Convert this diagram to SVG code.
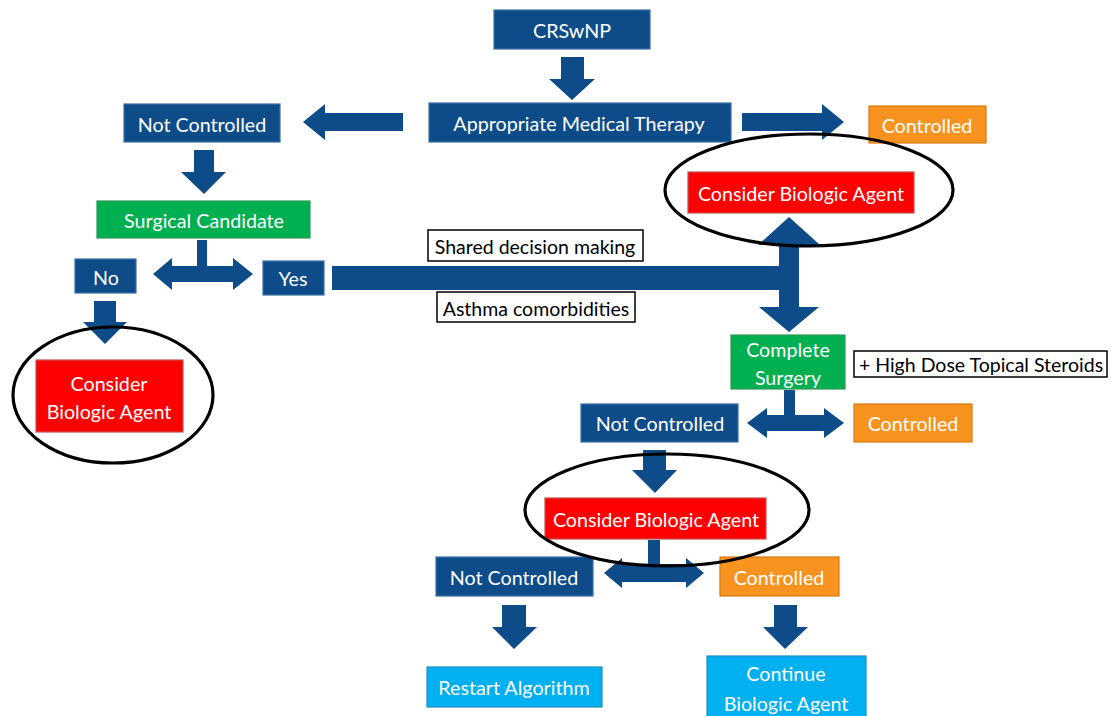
<svg xmlns="http://www.w3.org/2000/svg" width="1111" height="716" viewBox="0 0 1111 716">
<style>
.b{stroke-width:1.2}
.blue{fill:#0D4C88;stroke:#3B6FA6}
.org{fill:#F7931E;stroke:#D67A10}
.grn{fill:#00B050;stroke:#2E9A55}
.red{fill:#FF0000;stroke:#C0504D}
.lb{fill:#00B0F0;stroke:#1C8FC0}
.lab{fill:#fff;stroke:#000;stroke-width:1.5}
.t{font-family:Lato,"Open Sans",sans-serif;font-size:19.7px;fill:#fff;text-anchor:middle;dominant-baseline:central}
.tk{font-family:Lato,"Open Sans",sans-serif;font-size:19.5px;fill:#000;text-anchor:middle;dominant-baseline:central}
.arr{fill:#0D4C88}
.ring{fill:none;stroke:#000;stroke-width:3.2}
</style>
<g id="connectors">
<polygon class="arr" points="561,57 584,57 584,79 595,79 572,100 549,79 561,79"/>
<polygon class="arr" points="403,113 325,113 325,104 303,122 325,140 325,131 403,131"/>
<polygon class="arr" points="742,113 822,113 822,104 844,122 822,140 822,131 742,131"/>
<polygon class="arr" points="194,150 214,150 214,172 226,172 204,194 181,172 194,172"/>
<rect class="arr" x="197" y="240" width="10" height="28"/>
<polygon class="arr" points="153,274 172,258 172,266 233,266 233,258 253,274 233,290 233,282 172,282 172,290"/>
<polygon class="arr" points="94,301 116,301 116,322 127,322 105,344 83,322 94,322"/>
<rect class="arr" x="332" y="266" width="460" height="24"/>
<polygon class="arr" points="789,217 820,245 799,245 799,307 819,307 789,332 759,307 779,307 779,245 758,245"/>
<rect class="arr" x="784" y="390" width="11" height="30"/>
<polygon class="arr" points="747,423 767,408 767,415 824,415 824,408 844,423 824,438 824,431 767,431 767,438"/>
<polygon class="arr" points="643,450 666,450 666,470 677,470 655,493 632,470 643,470"/>
<rect class="arr" x="648" y="540" width="12" height="26"/>
<polygon class="arr" points="604,573 622,558 622,564 686,564 686,558 704,573 686,588 686,582 622,582 622,588"/>
<polygon class="arr" points="502,605 526,605 526,627 537,627 514,649 492,627 502,627"/>
<polygon class="arr" points="774,605 797,605 797,627 808,627 785,649 763,627 774,627"/>
</g>
<g id="n-crswnp"><rect class="blue b" x="494" y="10" width="156" height="39"/><text class="t" x="572" y="30">CRSwNP</text></g>
<g id="n-amt"><rect class="blue b" x="429" y="103" width="302" height="39"/><text class="t" x="579" y="123">Appropriate Medical Therapy</text></g>
<g id="n-nc1"><rect class="blue b" x="124" y="104" width="156" height="38"/><text class="t" x="202" y="124">Not Controlled</text></g>
<g id="n-c1"><rect class="org b" x="869" y="106" width="117" height="37"/><text class="t" x="927" y="125">Controlled</text></g>
<g id="n-cba1"><rect class="red b" x="688" y="172" width="226" height="41"/><text class="t" x="801" y="193">Consider Biologic Agent</text></g>
<g id="n-sc"><rect class="grn b" x="97" y="201" width="213" height="37"/><text class="t" x="204" y="220">Surgical Candidate</text></g>
<g id="n-no"><rect class="blue b" x="75" y="259" width="61" height="34"/><text class="t" x="106" y="277">No</text></g>
<g id="n-yes"><rect class="blue b" x="263" y="261" width="61" height="34"/><text class="t" x="293" y="278">Yes</text></g>
<g id="n-sdm"><rect class="lab" x="428" y="230" width="215" height="31"/><text class="tk" x="535" y="246">Shared decision making</text></g>
<g id="n-asthma"><rect class="lab" x="437" y="292" width="198" height="30"/><text class="tk" x="536" y="308">Asthma comorbidities</text></g>
<g id="n-cba2"><rect class="red b" x="36" y="360" width="147" height="72"/><text class="t" x="109" y="383">Consider</text><text class="t" x="109" y="411">Biologic Agent</text></g>
<g id="n-cs"><rect class="grn b" x="731" y="335" width="114" height="54"/><text class="t" x="788" y="349">Complete</text><text class="t" x="788" y="377">Surgery</text></g>
<g id="n-hdts"><rect class="lab" x="854" y="351" width="253" height="26"/><text class="tk" x="981" y="364">+ High Dose Topical Steroids</text></g>
<g id="n-nc2"><rect class="blue b" x="581" y="404" width="157" height="38"/><text class="t" x="660" y="423">Not Controlled</text></g>
<g id="n-c2"><rect class="org b" x="854" y="404" width="118" height="38"/><text class="t" x="913" y="423">Controlled</text></g>
<g id="n-cba3"><rect class="red b" x="545" y="498" width="221" height="41"/><text class="t" x="656" y="519">Consider Biologic Agent</text></g>
<g id="n-nc3"><rect class="blue b" x="436" y="557" width="157" height="39"/><text class="t" x="514" y="577">Not Controlled</text></g>
<g id="n-c3"><rect class="org b" x="720" y="557" width="119" height="39"/><text class="t" x="779" y="577">Controlled</text></g>
<g id="n-ra"><rect class="lb b" x="427" y="667" width="175" height="40"/><text class="t" x="514" y="687">Restart Algorithm</text></g>
<g id="n-cont"><rect class="lb b" x="707" y="656" width="159" height="64"/><text class="t" x="786" y="673">Continue</text><text class="t" x="786" y="703">Biologic Agent</text></g>
<g id="highlights">
<ellipse class="ring" cx="809" cy="190" rx="144" ry="56"/>
<ellipse class="ring" cx="113" cy="395" rx="100" ry="68"/>
<ellipse class="ring" cx="667" cy="510" rx="142" ry="56"/>
</g>
</svg>
